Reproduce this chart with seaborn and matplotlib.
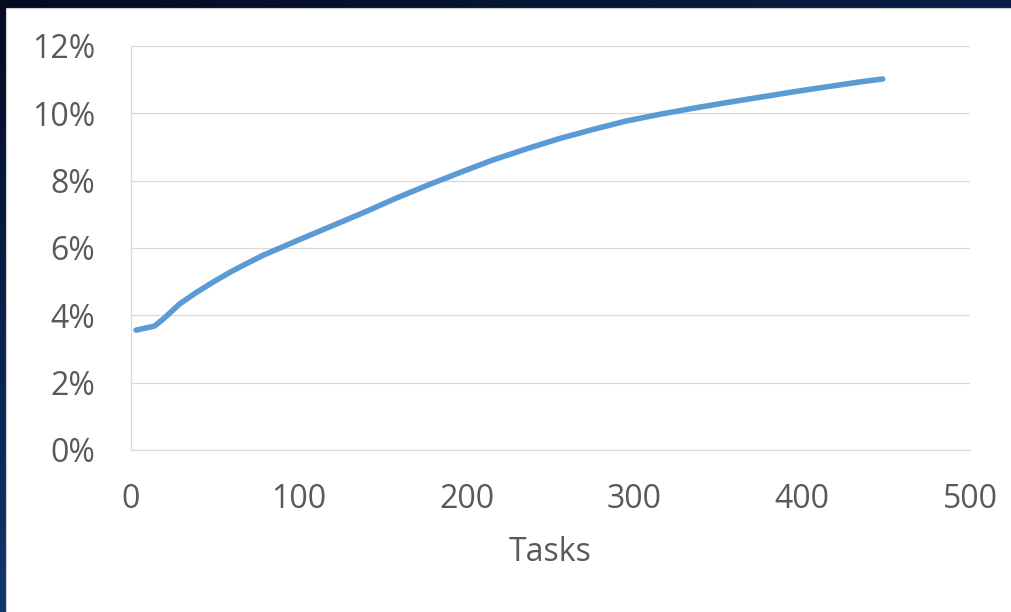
import numpy as np
import pandas as pd
import seaborn as sns
from matplotlib import pyplot as plt
from matplotlib.patches import Rectangle
from matplotlib.ticker import FuncFormatter

# values
tasks = [3, 14, 19, 29, 39, 49, 59, 69, 79, 99, 119, 139, 158, 178, 198, 216,
         236, 256, 276, 295, 315, 335, 355, 375, 395, 415, 434, 448]
rate = [3.56, 3.68, 3.88, 4.34, 4.68, 4.99, 5.28, 5.54, 5.79, 6.22, 6.64, 7.06,
        7.48, 7.89, 8.28, 8.62, 8.95, 9.26, 9.53, 9.77, 9.97, 10.15, 10.32,
        10.48, 10.64, 10.79, 10.93, 11.02]
x_ticks = [0, 100, 200, 300, 400, 500]
y_ticks = [0, 2, 4, 6, 8, 10, 12]

df = pd.DataFrame({'Tasks': tasks, 'Rate': rate})

sns.set_style('white')
plt.rcParams['font.family'] = ['Open Sans', 'DejaVu Sans']

fig = plt.figure(figsize=(10.11, 6.12), dpi=100)

# slide background: dark navy gradient with a white panel on top
bg = fig.add_axes([0, 0, 1, 1], zorder=-10)
gx, gy = np.meshgrid(np.linspace(0, 1, 200), np.linspace(0, 1, 200))
grad = 0.55 * gy + 0.25 * gx
bg.imshow(grad, cmap=sns.blend_palette(['#040a22', '#0b2a5c', '#1b4f86'], as_cmap=True),
          aspect='auto', extent=[0, 1, 0, 1], origin='upper')
bg.add_patch(Rectangle((6 / 1011, 0), 1, 1 - 8 / 612, facecolor='white',
                       edgecolor='#d0d0d0', linewidth=0.8))
bg.set_xlim(0, 1)
bg.set_ylim(0, 1)
bg.axis('off')

ax = fig.add_axes([131 / 1011, 1 - 450 / 612, 839 / 1011, 404 / 612])
ax.set_facecolor('white')
sns.lineplot(data=df, x='Tasks', y='Rate', ax=ax, color='#5b9bd5', linewidth=4,
             solid_capstyle='round', solid_joinstyle='round')

ax.set_xlim(0, 500)
ax.set_ylim(0, 12)
ax.set_xticks(x_ticks)
ax.set_yticks(y_ticks)
ax.yaxis.set_major_formatter(FuncFormatter(lambda v, p: f'{v:.0f}%'))
ax.grid(axis='y', color='#d9d9d9', linewidth=0.9)
ax.grid(axis='x', visible=False)
for s in ['top', 'right']:
    ax.spines[s].set_visible(False)
for s in ['left', 'bottom']:
    ax.spines[s].set_color('#d9d9d9')
    ax.spines[s].set_linewidth(0.9)
ax.tick_params(length=0, labelsize=23, labelcolor='#595959')
ax.tick_params(axis='y', pad=26)
ax.tick_params(axis='x', pad=24)
ax.set_ylabel('')
ax.set_xlabel('Tasks', fontsize=23, color='#595959', labelpad=14)

fig.savefig('out.png', dpi=100)
